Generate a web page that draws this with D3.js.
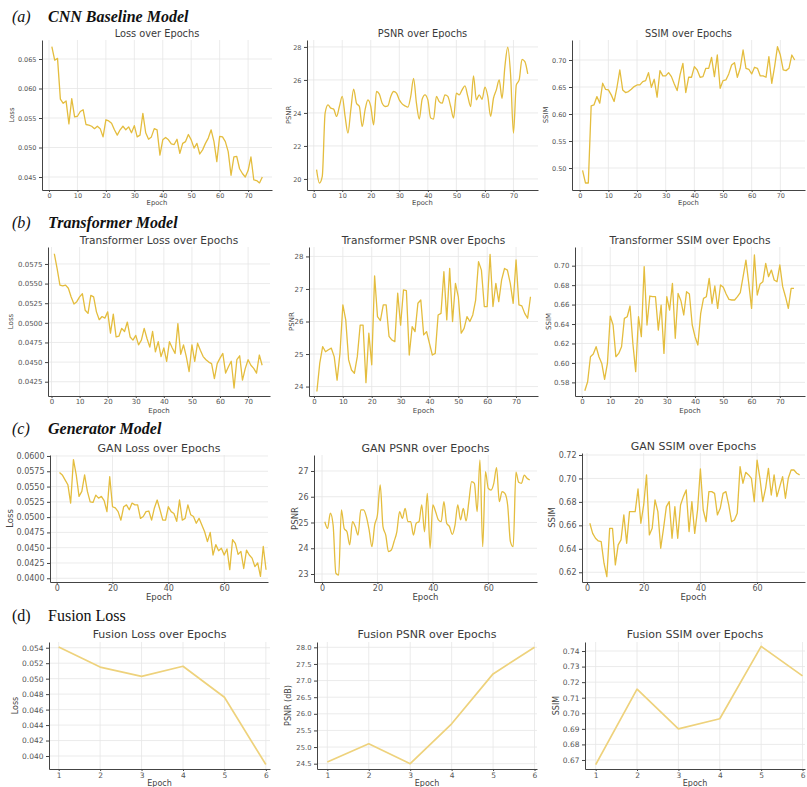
<!DOCTYPE html>
<html>
<head>
<meta charset="utf-8">
<title>Model training curves</title>
<script src="https://d3js.org/d3.v7.min.js"></script>
<style>
  body { margin: 0; background: #fff; }
  svg { display: block; }
  .hdr { font-family: "Liberation Serif", "Times New Roman", serif; font-size: 16px; fill: #111; }
  .ttl { font-family: "DejaVu Sans", sans-serif; fill: #3a3a3a; text-anchor: middle; }
  .lab { font-family: "DejaVu Sans", sans-serif; fill: #444; text-anchor: middle; }
  .axis text { font-family: "DejaVu Sans", sans-serif; fill: #555; }
  .axis path, .axis line { stroke: #444; }
</style>
</head>
<body>
<svg id="chart" width="807" height="787"></svg>
<script>
// ---- data ----
var epochs = [1,2,3,4,5,6,7,8,9,10,11,12,13,14,15,16,17,18,19,20,21,22,23,24,25,
  26,27,28,29,30,31,32,33,34,35,36,37,38,39,40,41,42,43,44,45,46,47,48,49,50,
  51,52,53,54,55,56,57,58,59,60,61,62,63,64,65,66,67,68,69,70,71,72,73,74,75];
var fusionEpochs = [1, 2, 3, 4, 5, 6];

var cnnLoss = [0.0671,0.0648,0.0651,0.0582,0.0575,0.0579,0.0540,0.0583,0.0552,0.0553,
  0.0561,0.0564,0.0539,0.0538,0.0536,0.0532,0.0536,0.0532,0.0518,0.0547,
  0.0545,0.0541,0.0530,0.0521,0.0530,0.0536,0.0530,0.0535,0.0525,0.0537,
  0.0518,0.0521,0.0558,0.0525,0.0514,0.0518,0.0532,0.0530,0.0487,0.0513,
  0.0517,0.0513,0.0506,0.0505,0.0514,0.0490,0.0507,0.0510,0.0522,0.0513,
  0.0499,0.0507,0.0489,0.0496,0.0507,0.0516,0.0530,0.0510,0.0476,0.0519,
  0.0518,0.0510,0.0493,0.0453,0.0484,0.0485,0.0464,0.0456,0.0450,0.0461,
  0.0484,0.0445,0.0444,0.0440,0.0450];
var cnnPsnr = [20.56,19.75,20.16,23.99,24.49,24.29,24.23,23.79,24.39,25.00,
  23.79,22.78,24.19,25.44,24.59,24.39,23.18,24.19,24.79,24.39,
  23.28,25.30,25.14,24.59,24.39,24.43,25.00,25.30,25.20,24.79,
  24.55,24.43,24.35,25.00,26.10,24.59,23.63,24.83,25.10,24.79,
  23.69,23.63,25.00,24.69,24.59,25.10,25.00,24.39,23.69,25.20,
  25.10,25.40,25.64,25.00,24.39,26.25,24.79,25.10,24.83,25.56,
  25.00,23.79,24.89,25.40,26.00,24.89,26.81,27.98,26.31,22.78,
  25.70,26.00,27.25,27.11,26.37];
var cnnSsim = [0.4957,0.4723,0.4723,0.6151,0.6170,0.6323,0.6200,0.6569,0.6458,0.6446,
  0.6354,0.6231,0.6495,0.6815,0.6446,0.6397,0.6415,0.6458,0.6508,0.6538,
  0.6538,0.6600,0.6618,0.6766,0.6495,0.6643,0.6311,0.6803,0.6705,0.6705,
  0.6766,0.6692,0.6557,0.6434,0.6723,0.6938,0.6397,0.6680,0.6680,0.6877,
  0.6815,0.6680,0.6692,0.6846,0.6846,0.7049,0.6692,0.7092,0.6477,0.6618,
  0.6631,0.6742,0.6908,0.6951,0.6680,0.6846,0.7185,0.6846,0.6828,0.6742,
  0.6865,0.6846,0.6705,0.6705,0.6680,0.7062,0.6569,0.6877,0.7246,0.7092,
  0.6815,0.6803,0.6846,0.7092,0.7000];

var trLoss = [0.0588,0.0569,0.0548,0.0547,0.0548,0.0544,0.0533,0.0524,0.0527,0.0533,
  0.0537,0.0516,0.0512,0.0535,0.0533,0.0514,0.0504,0.0508,0.0506,0.0514,
  0.0487,0.0511,0.0482,0.0483,0.0493,0.0489,0.0501,0.0482,0.0478,0.0484,
  0.0472,0.0478,0.0493,0.0480,0.0469,0.0489,0.0463,0.0476,0.0457,0.0468,
  0.0451,0.0476,0.0468,0.0461,0.0499,0.0460,0.0472,0.0457,0.0438,0.0472,
  0.0451,0.0474,0.0465,0.0457,0.0453,0.0450,0.0448,0.0429,0.0448,0.0455,
  0.0461,0.0436,0.0444,0.0451,0.0417,0.0453,0.0458,0.0427,0.0442,0.0453,
  0.0446,0.0442,0.0436,0.0459,0.0446];
var trPsnr = [23.85,24.72,25.23,25.07,25.13,25.18,24.92,24.20,25.02,26.51,
  26.05,24.82,24.51,24.41,24.92,25.89,25.89,24.12,25.64,24.67,
  27.40,26.15,26.03,26.51,26.51,25.54,25.43,25.38,26.87,25.89,
  26.97,26.95,24.97,25.84,25.69,26.56,26.66,25.59,25.69,25.33,
  24.97,25.02,26.20,26.25,27.53,26.05,27.63,26.00,27.17,26.76,
  25.64,25.79,26.15,26.00,26.20,26.66,27.84,27.58,26.46,26.46,
  28.06,26.46,27.17,26.61,27.28,27.63,27.58,27.17,26.56,27.89,
  26.51,26.48,26.25,26.10,26.76];
var trSsim = [0.5714,0.5807,0.6064,0.6091,0.6167,0.6064,0.5995,0.5831,0.5995,0.6482,
  0.6390,0.6064,0.6098,0.6167,0.6458,0.6475,0.6585,0.6201,0.5910,0.6475,
  0.6270,0.6990,0.6390,0.6688,0.6681,0.6681,0.6338,0.6595,0.6098,0.6681,
  0.6544,0.6818,0.6253,0.6715,0.6640,0.6493,0.6733,0.6709,0.6390,0.6270,
  0.6184,0.6510,0.6664,0.6681,0.6870,0.6613,0.6791,0.6561,0.6801,0.6777,
  0.6709,0.6654,0.6647,0.6647,0.6681,0.6722,0.6887,0.7058,0.6818,0.6561,
  0.7110,0.6698,0.6811,0.6835,0.7024,0.6887,0.6955,0.6853,0.6835,0.7007,
  0.6784,0.6681,0.6561,0.6767,0.6767];

var ganLoss = [0.0573,0.0569,0.0561,0.0553,0.0523,0.0594,0.0569,0.0534,0.0542,0.0569,
  0.0542,0.0525,0.0524,0.0536,0.0531,0.0534,0.0527,0.0509,0.0566,0.0517,
  0.0515,0.0509,0.0495,0.0517,0.0520,0.0512,0.0523,0.0520,0.0520,0.0498,
  0.0501,0.0509,0.0510,0.0495,0.0515,0.0528,0.0512,0.0495,0.0495,0.0517,
  0.0509,0.0506,0.0493,0.0528,0.0495,0.0498,0.0520,0.0504,0.0501,0.0490,
  0.0498,0.0487,0.0476,0.0460,0.0475,0.0438,0.0455,0.0445,0.0449,0.0438,
  0.0448,0.0414,0.0463,0.0457,0.0439,0.0444,0.0416,0.0446,0.0438,0.0433,
  0.0419,0.0425,0.0403,0.0452,0.0414];
var ganPsnr = [25.03,24.77,25.36,24.90,23.03,22.96,25.49,24.77,24.64,24.13,
  25.03,24.84,24.51,25.49,25.49,25.23,24.71,24.06,24.90,25.29,
  26.46,24.84,24.51,23.87,23.93,24.26,24.64,25.42,25.16,25.55,
  25.03,25.03,24.51,24.97,25.03,25.68,24.64,26.13,24.00,25.68,
  25.42,25.10,25.03,25.81,24.97,24.84,24.54,24.90,25.68,25.10,
  25.55,25.06,25.81,26.59,26.52,25.42,27.43,24.06,26.97,26.33,
  26.26,26.52,27.13,25.81,26.20,26.13,25.68,24.26,24.06,26.95,
  26.56,26.52,26.84,26.72,26.65];
var ganSsim = [0.6618,0.6532,0.6490,0.6467,0.6461,0.6277,0.6163,0.6575,0.6575,0.6263,
  0.6433,0.6476,0.6689,0.6447,0.6717,0.6717,0.6717,0.6910,0.6618,0.6774,
  0.7030,0.6518,0.6575,0.6817,0.6717,0.6405,0.6575,0.6760,0.6802,0.6490,
  0.6760,0.6490,0.6774,0.6845,0.6902,0.6547,0.6802,0.6532,0.6731,0.7081,
  0.6731,0.6632,0.6888,0.6888,0.6873,0.6689,0.6745,0.6873,0.6888,0.6774,
  0.6632,0.6646,0.6703,0.7101,0.6959,0.7052,0.7030,0.7001,0.6802,0.7157,
  0.7001,0.6802,0.6916,0.7086,0.6859,0.7030,0.6845,0.6930,0.7015,0.6831,
  0.7001,0.7072,0.7072,0.7044,0.7030];

var fusionLoss = [0.0541, 0.0515, 0.0503, 0.0516, 0.0476, 0.0389];
var fusionPsnr = [24.55, 25.10, 24.50, 25.70, 27.20, 28.00];
var fusionSsim = [0.667, 0.7155, 0.690, 0.6965, 0.743, 0.724];

// tick values
var ticksEpoch10 = [0, 10, 20, 30, 40, 50, 60, 70];
var ticksEpoch20 = [0, 20, 40, 60];
var ticksFusion = [1, 2, 3, 4, 5, 6];
var cnnLossTicks = [0.045, 0.050, 0.055, 0.060, 0.065];
var cnnPsnrTicks = [20, 22, 24, 26, 28];
var cnnSsimTicks = [0.50, 0.55, 0.60, 0.65, 0.70];
var trLossTicks = [0.0425, 0.0450, 0.0475, 0.0500, 0.0525, 0.0550, 0.0575];
var trPsnrTicks = [24, 25, 26, 27, 28];
var trSsimTicks = [0.58, 0.60, 0.62, 0.64, 0.66, 0.68, 0.70];
var ganLossTicks = [0.0400, 0.0425, 0.0450, 0.0475, 0.0500, 0.0525, 0.0550, 0.0575, 0.0600];
var ganPsnrTicks = [23, 24, 25, 26, 27];
var ganSsimTicks = [0.62, 0.64, 0.66, 0.68, 0.70, 0.72];
var fusionLossTicks = [0.040, 0.042, 0.044, 0.046, 0.048, 0.050, 0.052, 0.054];
var fusionPsnrTicks = [24.5, 25.0, 25.5, 26.0, 26.5, 27.0, 27.5, 28.0];
var fusionSsimTicks = [0.67, 0.68, 0.69, 0.70, 0.71, 0.72, 0.73, 0.74];

var headers = [
  {tag: "(a)", name: "CNN Baseline Model", y: 22, italic: true},
  {tag: "(b)", name: "Transformer Model", y: 228, italic: true},
  {tag: "(c)", name: "Generator Model", y: 434, italic: true},
  {tag: "(d)", name: "Fusion Loss", y: 621, italic: false}
];

// per-row text sizes and offsets
var rowStyle = [
  {title: 9.8, tick: 6.5, lab: 6.8, titleGap: 3, xlabGap: 15},
  {title: 10.6, tick: 7, lab: 7, titleGap: 3, xlabGap: 17},
  {title: 11, tick: 8, lab: 8.5, titleGap: 3, xlabGap: 18},
  {title: 11, tick: 7.5, lab: 8, titleGap: 4, xlabGap: 17}
];

// box = [left, right, top, bottom] in px
var panels = [
  {row: 0, title: "Loss over Epochs", ylab: "Loss", labX: 12, x: epochs, y: cnnLoss,
   box: [42, 272, 40, 190], xd: [-2.46, 78.4], yd: [0.0428, 0.06822], xt: ticksEpoch10, yt: cnnLossTicks, fmt: ".3f"},
  {row: 0, title: "PSNR over Epochs", ylab: "PSNR", labX: 289, x: epochs, y: cnnPsnr, smooth: true,
   box: [307, 538, 40, 190], xd: [-2.35, 78.6], yd: [19.33, 28.42], xt: ticksEpoch10, yt: cnnPsnrTicks, fmt: "d"},
  {row: 0, title: "SSIM over Epochs", ylab: "SSIM", labX: 546, x: epochs, y: cnnSsim,
   box: [572, 805, 40, 190], xd: [-2.69, 78.6], yd: [0.4593, 0.737], xt: ticksEpoch10, yt: cnnSsimTicks, fmt: ".2f"},

  {row: 1, title: "Transformer Loss over Epochs", ylab: "Loss", labX: 11, x: epochs, y: trLoss,
   box: [48, 270, 247, 396], xd: [-1.25, 77.8], yd: [0.04068, 0.05966], xt: ticksEpoch10, yt: trLossTicks, fmt: ".4f"},
  {row: 1, title: "Transformer PSNR over Epochs", ylab: "PSNR", labX: 292, x: epochs, y: trPsnr,
   box: [309, 538, 247, 396], xd: [-1.73, 77.6], yd: [23.71, 28.29], xt: ticksEpoch10, yt: trPsnrTicks, fmt: "d"},
  {row: 1, title: "Transformer SSIM over Epochs", ylab: "SSIM", labX: 549, x: epochs, y: trSsim,
   box: [575, 805, 247, 396], xd: [-2.47, 78.9], yd: [0.566, 0.7192], xt: ticksEpoch10, yt: trSsimTicks, fmt: ".2f"},

  {row: 2, title: "GAN Loss over Epochs", ylab: "Loss", labX: 10, x: epochs, y: ganLoss,
   box: [50, 268, 455, 582], xd: [-2.4, 75.7], yd: [0.03939, 0.06016], xt: ticksEpoch20, yt: ganLossTicks, fmt: ".4f"},
  {row: 2, title: "GAN PSNR over Epochs", ylab: "PSNR", labX: 295, x: epochs, y: ganPsnr, smooth: true,
   box: [314, 537, 455, 582], xd: [-2.9, 77.6], yd: [22.69, 27.62], xt: ticksEpoch20, yt: ganPsnrTicks, fmt: "d"},
  {row: 2, title: "GAN SSIM over Epochs", ylab: "SSIM", labX: 552, x: epochs, y: ganSsim,
   box: [582, 805, 453, 582], xd: [-1.76, 76.9], yd: [0.6117, 0.7217], xt: ticksEpoch20, yt: ganSsimTicks, fmt: ".2f"},

  {row: 3, title: "Fusion Loss over Epochs", ylab: "Loss", labX: 15, x: fusionEpochs, y: fusionLoss, fusion: true,
   box: [49, 270, 642, 769], xd: [0.766, 6.1], yd: [0.03832, 0.05474], xt: ticksFusion, yt: fusionLossTicks, fmt: ".3f"},
  {row: 3, title: "Fusion PSNR over Epochs", ylab: "PSNR (dB)", labX: 288, tf: 6.8, x: fusionEpochs, y: fusionPsnr, fusion: true,
   box: [317, 537, 642, 769], xd: [0.751, 6.06], yd: [24.34, 28.16], xt: ticksFusion, yt: fusionPsnrTicks, fmt: ".1f"},
  {row: 3, title: "Fusion SSIM over Epochs", ylab: "SSIM", labX: 556, x: fusionEpochs, y: fusionSsim, fusion: true,
   box: [585, 805, 642, 769], xd: [0.742, 6.06], yd: [0.6642, 0.7458], xt: ticksFusion, yt: fusionSsimTicks, fmt: ".2f"}
];

var svg = d3.select("#chart");

// section headers
headers.forEach(function(h) {
  var t = svg.append("text").attr("class", "hdr").attr("x", 12).attr("y", h.y);
  t.append("tspan").text(h.tag).attr("font-style", h.italic ? "italic" : "normal");
  t.append("tspan").attr("x", 48).text(h.name)
    .attr("font-style", h.italic ? "italic" : "normal")
    .attr("font-weight", h.italic ? "bold" : "normal");
});

panels.forEach(function(p) {
  var st = rowStyle[p.row];
  var tickFont = p.tf || st.tick;
  var l = p.box[0], r = p.box[1], top = p.box[2], bot = p.box[3];
  var x = d3.scaleLinear().domain(p.xd).range([l, r]);
  var y = d3.scaleLinear().domain(p.yd).range([bot, top]);
  var g = svg.append("g");

  // grid
  g.selectAll("line.gx").data(p.xt).enter().append("line")
    .attr("x1", function(d) { return x(d); }).attr("x2", function(d) { return x(d); })
    .attr("y1", top).attr("y2", bot)
    .attr("stroke", "#e6e6e6").attr("stroke-width", 0.8);
  g.selectAll("line.gy").data(p.yt).enter().append("line")
    .attr("x1", l).attr("x2", r)
    .attr("y1", function(d) { return y(d); }).attr("y2", function(d) { return y(d); })
    .attr("stroke", "#e6e6e6").attr("stroke-width", 0.8);

  // axes
  var ax = g.append("g").attr("class", "axis")
    .attr("transform", "translate(0," + bot + ")")
    .call(d3.axisBottom(x).tickValues(p.xt).tickFormat(d3.format("d"))
      .tickSize(2).tickSizeOuter(0).tickPadding(1.5));
  var ay = g.append("g").attr("class", "axis")
    .attr("transform", "translate(" + l + ",0)")
    .call(d3.axisLeft(y).tickValues(p.yt).tickFormat(d3.format(p.fmt))
      .tickSize(3).tickSizeOuter(0).tickPadding(2.5));
  ax.selectAll("text").style("font-size", st.tick + "px");
  ay.selectAll("text").style("font-size", tickFont + "px");
  ax.select(".domain").attr("stroke-width", 1);
  ay.select(".domain").attr("stroke-width", 1);

  // series
  var pts = p.x.map(function(d, i) { return [d, p.y[i]]; });
  var line = d3.line()
    .x(function(d) { return x(d[0]); })
    .y(function(d) { return y(d[1]); })
    .curve(p.smooth ? d3.curveMonotoneX : d3.curveLinear);
  g.append("path").datum(pts)
    .attr("d", line)
    .attr("fill", "none")
    .attr("stroke", p.fusion ? "#eed27c" : "#e4bd3e")
    .attr("stroke-width", p.fusion ? 1.7 : 1.3)
    .attr("stroke-linejoin", "round");

  // title + labels
  g.append("text").attr("class", "ttl")
    .attr("x", (l + r) / 2).attr("y", top - st.titleGap)
    .style("font-size", st.title + "px")
    .text(p.title);
  g.append("text").attr("class", "lab")
    .attr("x", (l + r) / 2).attr("y", bot + st.xlabGap)
    .style("font-size", st.lab + "px")
    .text("Epoch");
  g.append("text").attr("class", "lab")
    .attr("transform", "translate(" + p.labX + "," + ((top + bot) / 2) + ") rotate(-90)")
    .attr("dominant-baseline", "central")
    .style("font-size", st.lab + "px")
    .text(p.ylab);
});
</script>
</body>
</html>
